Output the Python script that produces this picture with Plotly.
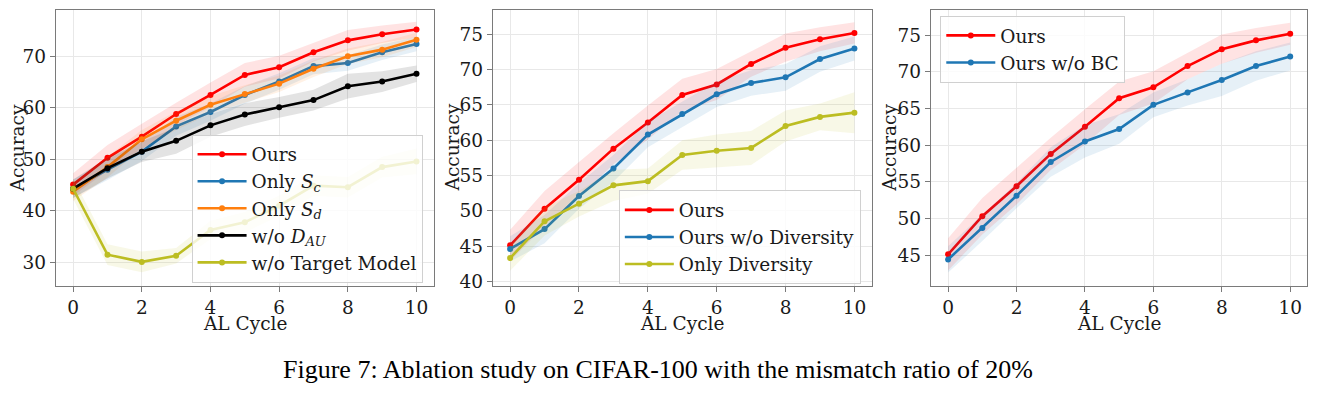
import plotly.graph_objects as go

cycles = list(range(11))

# Panel 1
p1_ours = [45.1, 50.3, 54.4, 58.8, 62.5, 66.4, 67.9, 70.8, 73.1, 74.3, 75.2]
p1_ours_sd = [2.2, 2.5, 2.5, 2.2, 2.4, 2.3, 2.2, 1.8, 2.0, 1.7, 1.5]
p1_sc = [44.3, 48.0, 51.5, 56.4, 59.2, 62.5, 65.1, 68.1, 68.7, 70.8, 72.4]
p1_sc_sd = [1.8, 2.0, 1.8, 1.8, 1.7, 1.7, 1.6, 1.6, 1.5, 1.5, 1.4]
p1_sd = [43.7, 48.5, 53.9, 57.5, 60.6, 62.7, 64.7, 67.6, 70.0, 71.3, 73.2]
p1_sd_sd = [1.8, 2.0, 1.8, 1.8, 1.7, 1.7, 1.6, 1.6, 1.5, 1.5, 1.4]
p1_dau = [44.3, 48.3, 51.5, 53.6, 56.6, 58.7, 60.1, 61.5, 64.2, 65.1, 66.6]
p1_dau_sd = [1.8, 2.0, 2.0, 2.5, 2.2, 2.2, 2.0, 2.0, 2.4, 2.0, 1.6]
p1_tm = [44.3, 31.5, 30.1, 31.3, 36.3, 37.8, 41.0, 44.9, 44.6, 48.5, 49.6]
p1_tm_sd = [2.0, 2.0, 2.0, 1.5, 1.8, 2.0, 2.0, 2.0, 2.0, 2.0, 2.5]

# Panel 2
p2_ours = p1_ours
p2_ours_sd = p1_ours_sd
p2_nodiv = [44.6, 47.4, 52.1, 56.0, 60.8, 63.7, 66.5, 68.1, 68.9, 71.5, 73.0]
p2_nodiv_sd = [1.8, 2.0, 1.8, 1.9, 1.8, 1.8, 1.8, 1.8, 1.9, 1.8, 1.7]
p2_div = [43.3, 48.5, 51.0, 53.6, 54.2, 57.9, 58.5, 58.9, 62.0, 63.3, 63.9]
p2_div_sd = [1.8, 2.0, 1.8, 2.2, 1.8, 2.1, 2.3, 2.4, 2.2, 1.9, 2.9]

# Panel 3
p3_ours = p1_ours
p3_ours_sd = p1_ours_sd
p3_nobc = [44.4, 48.7, 53.1, 57.7, 60.5, 62.2, 65.5, 67.2, 68.9, 70.8, 72.1]
p3_nobc_sd = [1.8, 1.8, 1.7, 2.0, 2.2, 2.0, 1.7, 1.8, 2.2, 2.0, 1.9]

x_ticks = [0, 2, 4, 6, 8, 10]
y_ticks_1 = [30, 40, 50, 60, 70]
y_ticks_2 = [40, 45, 50, 55, 60, 65, 70, 75]
y_ticks_3 = [45, 50, 55, 60, 65, 70, 75]

RED = "#ff0000"
BLUE = "#1f77b4"
ORANGE = "#ff7f0e"
BLACK = "#000000"
OLIVE = "#bcbd22"

def rgba(hexc, a):
    h = hexc.lstrip("#")
    r, g, b = int(h[0:2], 16), int(h[2:4], 16), int(h[4:6], 16)
    return f"rgba({r},{g},{b},{a})"

fig = go.Figure()

def add_series(idx, y, sd, color, name, legend):
    xs = "x" if idx == 1 else f"x{idx}"
    ys = "y" if idx == 1 else f"y{idx}"
    upper = [v + s for v, s in zip(y, sd)]
    lower = [v - s for v, s in zip(y, sd)]
    fig.add_trace(go.Scatter(
        x=cycles + cycles[::-1], y=upper + lower[::-1],
        fill="toself", fillcolor=rgba(color, 0.11), line=dict(width=0),
        mode="lines", showlegend=False, hoverinfo="skip", xaxis=xs, yaxis=ys))
    fig.add_trace(go.Scatter(
        x=cycles, y=y, mode="lines+markers", name=name,
        line=dict(color=color, width=2.6), marker=dict(color=color, size=6),
        legendgroup=f"{idx}-{name}", legend=legend, xaxis=xs, yaxis=ys))

add_series(1, p1_ours, p1_ours_sd, RED, "Ours", "legend")
add_series(1, p1_sc, p1_sc_sd, BLUE, "Only <i>S</i><sub><i>c</i></sub>", "legend")
add_series(1, p1_sd, p1_sd_sd, ORANGE, "Only <i>S</i><sub><i>d</i></sub>", "legend")
add_series(1, p1_dau, p1_dau_sd, BLACK, "w/o <i>D</i><sub><i>AU</i></sub>", "legend")
add_series(1, p1_tm, p1_tm_sd, OLIVE, "w/o Target Model", "legend")

add_series(2, p2_ours, p2_ours_sd, RED, "Ours", "legend2")
add_series(2, p2_nodiv, p2_nodiv_sd, BLUE, "Ours w/o Diversity", "legend2")
add_series(2, p2_div, p2_div_sd, OLIVE, "Only Diversity", "legend2")

add_series(3, p3_ours, p3_ours_sd, RED, "Ours", "legend3")
add_series(3, p3_nobc, p3_nobc_sd, BLUE, "Ours w/o BC", "legend3")

FONT = "DejaVu Serif"
FS = 18.5
OFF = 8  # page body margin
W, H = 1317 - 2 * OFF, 399 - 2 * OFF

def px_x(v):
    return (v - OFF) / W

def px_y(v):
    return 1 - (v - OFF) / H

axis_common = dict(
    showline=True, mirror=True, linecolor="#7a7a7a", linewidth=1.3,
    showgrid=True, gridcolor="#e8e8e8", gridwidth=1,
    ticks="outside", ticklen=5, tickcolor="#7a7a7a",
    tickfont=dict(family=FONT, size=FS, color="#1a1a1a"),
    zeroline=False,
)

yd = [px_y(290), px_y(10)]
domains = [(56, 434), (493.3, 872.3), (931.7, 1308.3)]
yranges = [[25.5, 79.0], [39.4, 78.45], [40.83, 78.45]]
ydticks = [y_ticks_1, y_ticks_2, y_ticks_3]

layout = dict(
    width=W, height=H, margin=dict(l=0, r=0, t=0, b=0),
    paper_bgcolor="white", plot_bgcolor="white", showlegend=True,
)
for i, (d, yr, yt) in enumerate(zip(domains, yranges, ydticks), start=1):
    xk = "xaxis" if i == 1 else f"xaxis{i}"
    yk = "yaxis" if i == 1 else f"yaxis{i}"
    layout[xk] = dict(axis_common, domain=[px_x(d[0]), px_x(d[1])], range=[-0.5, 10.5],
                      tickvals=x_ticks, anchor="y" if i == 1 else f"y{i}")
    layout[yk] = dict(axis_common, domain=yd, range=yr, tickvals=yt,
                      anchor="x" if i == 1 else f"x{i}")

leg_common = dict(
    bgcolor="rgba(255,255,255,0.8)", bordercolor="#d0d0d0", borderwidth=1,
    font=dict(family=FONT, size=FS, color="#1a1a1a"),
    xref="paper", yref="paper", xanchor="left", yanchor="top",
    traceorder="grouped", tracegroupgap=0, itemwidth=49,
)
layout["legend"] = dict(leg_common, x=px_x(191.7), y=px_y(136.7))
layout["legend2"] = dict(leg_common, x=px_x(619.3), y=px_y(193.3))
layout["legend3"] = dict(leg_common, x=px_x(941), y=px_y(16))

fig.update_layout(**layout)

annots = []
for cx in [245, 683, 1120]:
    annots.append(dict(text="AL Cycle", x=px_x(cx), y=px_y(329), xref="paper", yref="paper",
                       showarrow=False, font=dict(family=FONT, size=FS, color="#1a1a1a"),
                       xanchor="center", yanchor="middle"))
for cx in [17.5, 453, 890.7]:
    annots.append(dict(text="Accuracy", x=px_x(cx), y=px_y(150), xref="paper", yref="paper",
                       showarrow=False, textangle=-90, font=dict(family=FONT, size=FS, color="#1a1a1a"),
                       xanchor="center", yanchor="middle"))
annots.append(dict(text="Figure 7: Ablation study on CIFAR-100 with the mismatch ratio of 20%",
                   x=px_x(658), y=0, xref="paper", yref="paper", showarrow=False,
                   font=dict(family="Liberation Serif", size=26, color="#000000"),
                   xanchor="center", yanchor="bottom", borderpad=0))
fig.update_layout(annotations=annots)

fig.write_html("out.html")
